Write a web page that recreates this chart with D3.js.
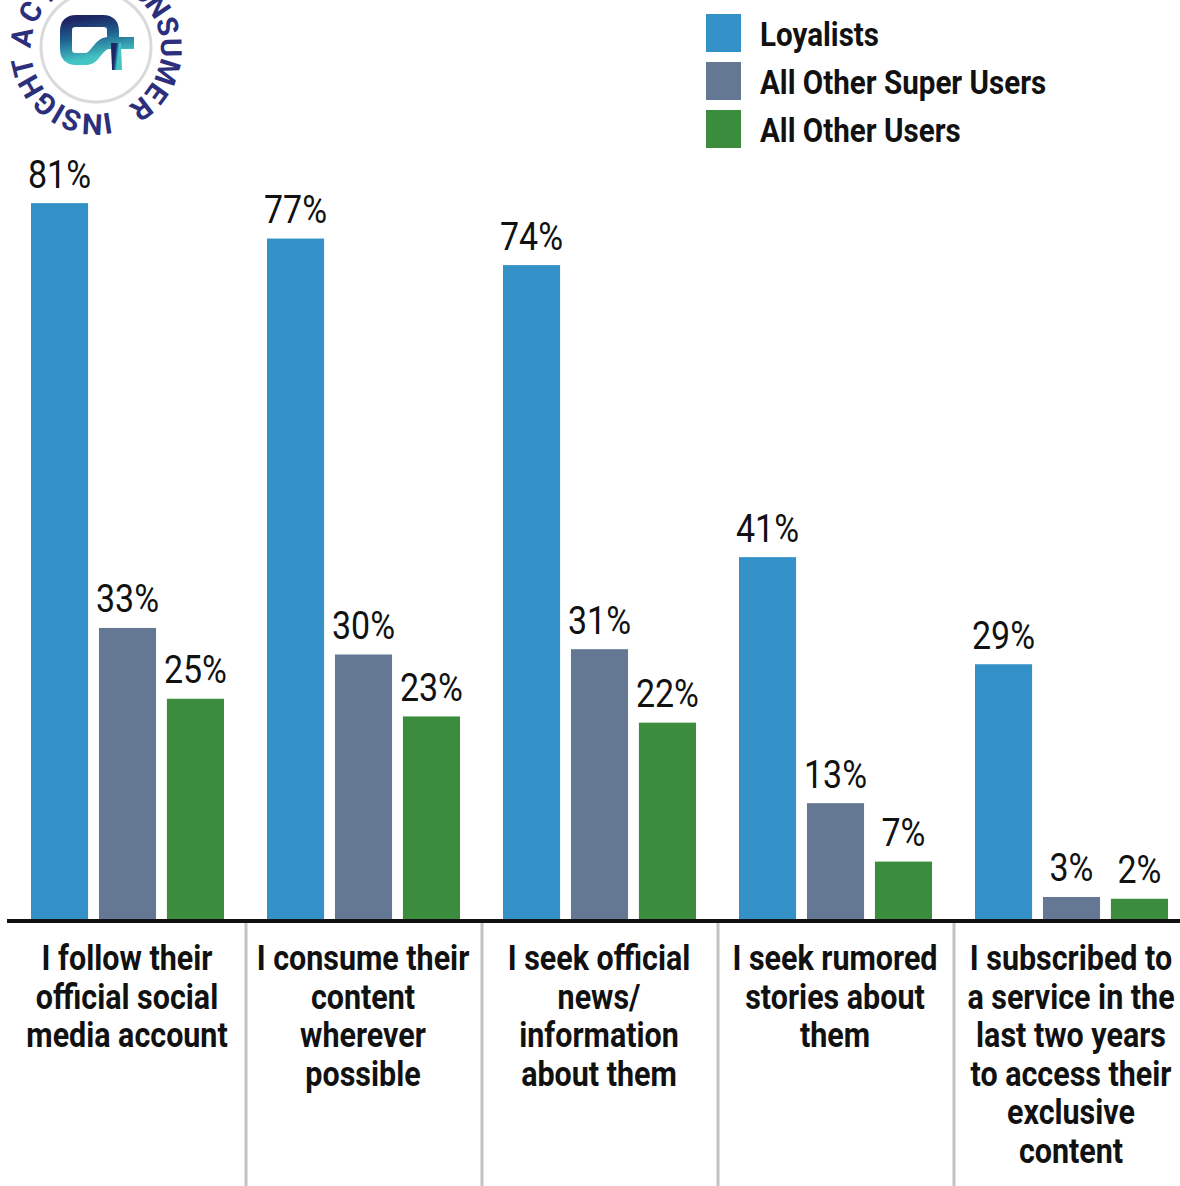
<!DOCTYPE html>
<html>
<head>
<meta charset="utf-8">
<script src="https://cdn.jsdelivr.net/npm/d3@7"></script>
<style>
  html, body { margin: 0; padding: 0; background: #fff; }
  svg { display: block; }
  text { font-family: Roboto, "Noto Sans", sans-serif; }
</style>
</head>
<body>
<svg id="chart" width="1180" height="1186"></svg>
<script>
// ---------- data ----------
const categories = ["follow", "consume", "seekOfficial", "seekRumored", "subscribed"];
const categoryLabels = [
  ["I follow their", "official social", "media account"],
  ["I consume their", "content", "wherever", "possible"],
  ["I seek official", "news/", "information", "about them"],
  ["I seek rumored", "stories about", "them"],
  ["I subscribed to", "a service in the", "last two years", "to access their", "exclusive", "content"]
];
const series = ["Loyalists", "All Other Super Users", "All Other Users"];
const loyalists = [81, 77, 74, 41, 28.9];
const otherSuperUsers = [33, 30, 30.6, 13.2, 2.6];
const otherUsers = [25, 23, 22.3, 6.6, 2.4];
const seriesValues = [loyalists, otherSuperUsers, otherUsers];
const colors = ["#3391c7", "#647893", "#3b8c3c"];
const ringText = "ACTIONABLE CONSUMER INSIGHT";

// ---------- setup ----------
const svg = d3.select("#chart");
const SX = 0.87; // condensed look
const baseY = 920;

const x = d3.scaleBand().domain(categories).range([10, 1190]).paddingInner(0).paddingOuter(0);
const x1 = d3.scaleBand().domain(series).range([21, 214]).paddingInner(0.16).paddingOuter(0);
const y = d3.scaleLinear().domain([0, 100]).range([baseY, baseY - 885]);
const color = d3.scaleOrdinal().domain(series).range(colors);

const rows = [];
categories.forEach((c, i) => {
  series.forEach((s, j) => rows.push({ cat: c, ser: s, val: seriesValues[j][i] }));
});

// ---------- bars ----------
svg.append("g").selectAll("rect").data(rows).join("rect")
  .attr("x", d => x(d.cat) + x1(d.ser))
  .attr("y", d => y(d.val))
  .attr("width", x1.bandwidth())
  .attr("height", d => baseY - y(d.val))
  .attr("fill", d => color(d.ser));

// value labels
svg.append("g").selectAll("text").data(rows).join("text")
  .attr("transform", d => `translate(${x(d.cat) + x1(d.ser) + x1.bandwidth() / 2},${y(d.val) - 15.5}) scale(${SX},1)`)
  .attr("text-anchor", "middle")
  .attr("font-size", 39)
  .attr("fill", "#111")
  .text(d => Math.round(d.val) + "%");

// ---------- axis ----------
const axisG = svg.append("g").attr("transform", `translate(0,${baseY + 1})`)
  .call(d3.axisBottom(x).tickSize(0).tickFormat(""));
axisG.select(".domain").remove();
axisG.append("line").attr("x1", 7).attr("x2", 1180).attr("y1", 0).attr("y2", 0)
  .attr("stroke", "#111").attr("stroke-width", 4);

// separators
svg.append("g").selectAll("line").data(categories.slice(1)).join("line")
  .attr("x1", d => x(d)).attr("x2", d => x(d))
  .attr("y1", baseY + 3).attr("y2", 1186)
  .attr("stroke", "#c2c2c2").attr("stroke-width", 3);

// category labels
const catG = svg.append("g").selectAll("g").data(categories).join("g");
catG.each(function (c, i) {
  const cx = x(c) + x.bandwidth() / 2 - 1;
  d3.select(this).selectAll("text").data(categoryLabels[i]).join("text")
    .attr("transform", (t, k) => `translate(${cx},${970 + k * 38.6}) scale(${SX},1)`)
    .attr("text-anchor", "middle")
    .attr("font-size", 35)
    .attr("font-weight", 700)
    .attr("fill", "#111")
    .text(t => t);
});

// ---------- legend ----------
const leg = svg.append("g").selectAll("g").data(series).join("g")
  .attr("transform", (d, i) => `translate(706,${14 + i * 48})`);
leg.append("rect").attr("width", 35).attr("height", 38).attr("fill", d => color(d));
leg.append("text")
  .attr("transform", `translate(54,32) scale(${SX},1)`)
  .attr("font-size", 34).attr("font-weight", 700).attr("fill", "#111")
  .text(d => d);

// ---------- logo ----------
const defs = svg.append("defs");
const grad = defs.append("linearGradient").attr("id", "lg").attr("x1", 0).attr("y1", 0).attr("x2", 0.3).attr("y2", 1);
grad.append("stop").attr("offset", "0%").attr("stop-color", "#1d2563");
grad.append("stop").attr("offset", "45%").attr("stop-color", "#1f5f8f");
grad.append("stop").attr("offset", "100%").attr("stop-color", "#45c4c4");

const cx0 = 96, cy0 = 49;
const logo = svg.append("g");
logo.append("circle").attr("cx", 96).attr("cy", 47).attr("r", 55)
  .attr("fill", "none").attr("stroke", "#dadada").attr("stroke-width", 3);

// icon
logo.append("path")
  .attr("d", "M113 39 V31 Q113 21 103 21 H76 Q66 21 66 31 V49 Q66 59 76 59 H86 C96 59 97 44 108 43 H134")
  .attr("fill", "none").attr("stroke", "url(#lg)").attr("stroke-width", 12).attr("stroke-linejoin", "round");
logo.append("path")
  .attr("d", "M116 43 C116 55 117 62 117 70")
  .attr("fill", "none").attr("stroke", "url(#lg)").attr("stroke-width", 10);

// ring text: each letter placed by angle (clockwise from top)
const ringAngles = [279, 299.7, 318, 326, 334, 342, 350, 358, 366, 374, 382, 390, 400,
  415.5, 432.2, 449, 467.9, 486.1, 502.8, 517, 531.2, 542.9, 559.1, 570.2, 582.6, 600.2, 616];
const ringR = 65;
logo.append("g").selectAll("text").data(ringText.split("")).join("text")
  .attr("transform", (ch, i) => `translate(${cx0},${cy0}) rotate(${ringAngles[i]}) translate(0,${-ringR})`)
  .attr("text-anchor", "middle")
  .attr("font-family", "'Liberation Sans', Arial, sans-serif")
  .attr("font-size", 29).attr("font-weight", 700).attr("fill", "#2b2f7c")
  .text(ch => ch);
</script>
</body>
</html>
